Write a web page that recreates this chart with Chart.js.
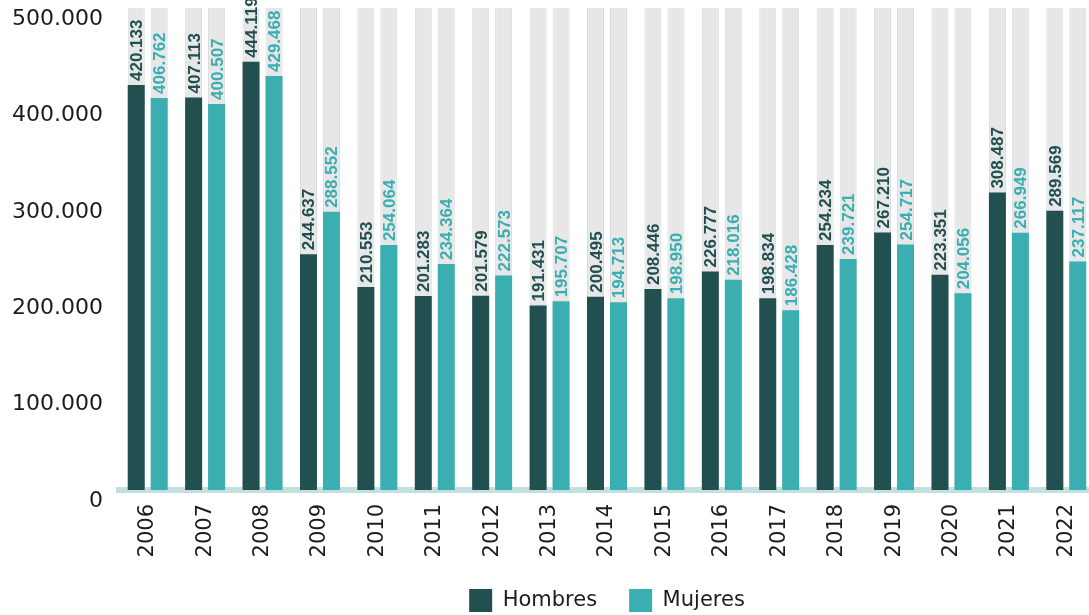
<!DOCTYPE html>
<html>
<head>
<meta charset="utf-8">
<script src="https://cdn.jsdelivr.net/npm/chart.js@4"></script>
<style>
    body { margin: 0; background: #fff; overflow: hidden; }
    #grafico { display: block; }
</style>
</head>
<body>
<canvas id="grafico" width="1095" height="615"></canvas>
<script>
const anios = ['2006', '2007', '2008', '2009', '2010', '2011', '2012', '2013', '2014',
    '2015', '2016', '2017', '2018', '2019', '2020', '2021', '2022'];
const hombres = [420133, 407113, 444119, 244637, 210553, 201283, 201579, 191431, 200495,
    208446, 226777, 198834, 254234, 267210, 223351, 308487, 289569];
const mujeres = [406762, 400507, 429468, 288552, 254064, 234364, 222573, 195707, 194713,
    198950, 218016, 186428, 239721, 254717, 204056, 266949, 237117];
const tope = 500000;
const paso = 100000;

const colorHombres = '#224f50';
const colorMujeres = '#3aaeb0';
const colorFondo = '#e7e7e7';
const colorBordeFondo = '#d9d9d9';
const colorBase = '#c3dfdf';
const colorTexto = '#1c1c1c';

// gray columns behind every bar reach the top of the scale
const fondo = anios.map(() => tope);

function puntos(v) {
    return String(v).replace(/\B(?=(\d{3})+(?!\d))/g, '.');
}

// value labels written upwards just above each bar
const etiquetasBarras = {
    id: 'etiquetasBarras',
    afterDatasetsDraw(chart) {
        const ctx = chart.ctx;
        ctx.save();
        ctx.font = 'bold 17px "Liberation Sans"';
        ctx.textAlign = 'left';
        ctx.textBaseline = 'alphabetic';
        [0, 1].forEach(function (d) {
            const ds = chart.data.datasets[d];
            chart.getDatasetMeta(d).data.forEach(function (bar, i) {
                ctx.save();
                ctx.translate(bar.x + 6, bar.y - 4);
                ctx.rotate(-Math.PI / 2);
                ctx.fillStyle = ds.backgroundColor;
                ctx.fillText(puntos(ds.data[i]), 0, 0);
                ctx.restore();
            });
        });
        ctx.restore();
    }
};

const fondoComun = {
    data: fondo,
    backgroundColor: colorFondo,
    borderColor: colorBordeFondo,
    borderWidth: { left: 1, right: 1, top: 0, bottom: 0 },
    borderSkipped: false,
    order: 2
};

new Chart(document.getElementById('grafico'), {
    type: 'bar',
    data: {
        labels: anios,
        datasets: [{
            label: 'Hombres',
            data: hombres,
            backgroundColor: colorHombres,
            stack: 'h',
            order: 1
        }, {
            label: 'Mujeres',
            data: mujeres,
            backgroundColor: colorMujeres,
            stack: 'm',
            order: 1
        },
        Object.assign({ label: 'fondoH', stack: 'h' }, fondoComun),
        Object.assign({ label: 'fondoM', stack: 'm' }, fondoComun)]
    },
    options: {
        responsive: false,
        animation: false,
        barPercentage: 0.74,
        categoryPercentage: 0.8,
        layout: { padding: { top: 8, left: 0, right: 0, bottom: 0 } },
        scales: {
            x: {
                offset: true,
                grid: { display: false, drawTicks: false },
                border: { display: true, color: colorBase, width: 6 },
                ticks: {
                    padding: 14,
                    minRotation: 90,
                    maxRotation: 90,
                    color: colorTexto,
                    font: { family: '"DejaVu Sans"', size: 21 }
                },
                afterFit(s) {
                    s.height = 67;
                    s.paddingLeft = 0;
                    s.paddingRight = 0;
                }
            },
            y: {
                min: 0,
                max: tope,
                stacked: false,
                grid: { display: false, drawTicks: false },
                border: { display: false },
                ticks: {
                    stepSize: paso,
                    padding: 16,
                    labelOffset: 11,
                    color: colorTexto,
                    font: { family: '"DejaVu Sans"', size: 22 },
                    callback: (v) => puntos(v)
                },
                afterFit(s) {
                    s.width = 119;
                    s.paddingTop = 0;
                    s.paddingBottom = 0;
                }
            }
        },
        plugins: {
            tooltip: { enabled: false },
            legend: {
                position: 'bottom',
                fullSize: false,
                maxHeight: 58,
                labels: {
                    boxWidth: 23,
                    boxHeight: 23,
                    padding: 32,
                    color: colorTexto,
                    font: { family: '"DejaVu Sans"', size: 21 },
                    filter: (item) => item.datasetIndex < 2
                }
            }
        }
    },
    plugins: [etiquetasBarras]
});
</script>
</body>
</html>
